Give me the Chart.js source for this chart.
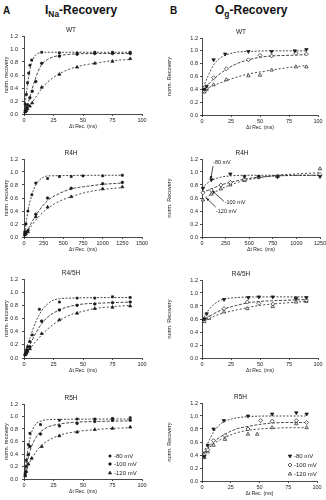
<!DOCTYPE html>
<html><head><meta charset="utf-8">
<script src="https://cdn.jsdelivr.net/npm/chart.js@4"></script>
<style>
html,body{margin:0;padding:0;background:#fff;width:326px;height:500px;overflow:hidden}
canvas{position:absolute}
.hdr{position:absolute;font-family:'Liberation Sans',Arial,sans-serif;font-weight:bold;color:#111;white-space:nowrap;line-height:1}
.hdr sub{font-size:70%;vertical-align:-3px;line-height:0}
</style></head><body>
<div class="hdr" style="left:3px;top:6px;font-size:10px">A</div>
<div class="hdr" style="left:45px;top:4px;font-size:12px">I<sub>Na</sub>-Recovery</div>
<div class="hdr" style="left:170px;top:6px;font-size:10px">B</div>
<div class="hdr" style="left:215px;top:4px;font-size:12px">O<sub>g</sub>-Recovery</div>
<canvas id="a1"></canvas><canvas id="b1"></canvas>
<canvas id="a2"></canvas><canvas id="b2"></canvas>
<canvas id="a3"></canvas><canvas id="b3"></canvas>
<canvas id="a4"></canvas><canvas id="b4"></canvas>
<script>
const FONT = "'Liberation Sans', Arial, sans-serif";
const INK = '#1a1a1a';

// ---- tick labels / categories ----
const xTicks100 = [0, 25, 50, 75, 100];
const xTicks1500 = [0, 250, 500, 750, 1000, 1250, 1500];
const xTicks1250 = [0, 250, 500, 750, 1000, 1250];
const yTicks = [0, 0.2, 0.4, 0.6, 0.8, 1.0, 1.2];
const voltages = ['-80 mV', '-100 mV', '-120 mV'];
const rowTitles = ['WT', 'R4H', 'R4/5H', 'R5H'];
const xTitle = 'Δt Rec. (ms)';

// ---- A: I_Na recovery, WT ----
const naWT80 = [[1,0.15],[2,0.3],[3,0.48],[4,0.63],[5,0.75],[6.5,0.83],[15,0.95],[30,0.94],[45,0.94],[60,0.95],[75,0.95],[90,0.95]];
const naWT80fit = [[0,0],[1,0.16],[2,0.31],[3,0.45],[4,0.58],[5,0.68],[6,0.76],[8,0.86],[10,0.91],[13,0.94],[20,0.95],[90,0.95]];
const naWT100 = [[1,0.05],[2,0.1],[3,0.14],[5,0.25],[7,0.35],[10,0.5],[15,0.78],[30,0.89],[45,0.92],[60,0.93],[75,0.93],[90,0.93]];
const naWT100fit = [[0,0],[2,0.09],[5,0.26],[8,0.45],[10,0.56],[13,0.7],[16,0.78],[20,0.84],[25,0.88],[30,0.9],[40,0.92],[60,0.93],[90,0.93]];
const naWT120 = [[1,0.03],[2,0.05],[3,0.08],[5,0.12],[7,0.17],[15,0.41],[30,0.61],[45,0.72],[60,0.78],[75,0.81],[90,0.85]];
const naWT120fit = [[0,0],[5,0.13],[10,0.26],[15,0.39],[20,0.49],[30,0.62],[40,0.7],[50,0.75],[60,0.78],[75,0.82],[90,0.84]];

// ---- B: O_g recovery, WT ----
const ogWT80 = [[2,0.4],[4,0.45],[10,0.86],[20,0.95],[40,0.99],[60,0.99],[80,1.0],[90,1.02]];
const ogWT80fit = [[0,0.38],[5,0.6],[10,0.78],[15,0.88],[20,0.93],[30,0.98],[40,0.99],[60,1.0],[90,1.0]];
const ogWT100 = [[2,0.37],[4,0.42],[10,0.58],[21,0.72],[40,0.86],[50,0.93],[60,0.92],[81,0.96],[90,0.95]];
const ogWT100fit = [[0,0.38],[10,0.56],[20,0.7],[30,0.8],[40,0.86],[50,0.9],[60,0.92],[75,0.93],[90,0.94]];
const ogWT120 = [[2,0.36],[4,0.4],[10,0.47],[21,0.55],[40,0.61],[50,0.62],[60,0.7],[81,0.75],[90,0.75]];
const ogWT120fit = [[0,0.38],[10,0.46],[20,0.53],[30,0.59],[40,0.64],[50,0.67],[60,0.7],[75,0.74],[90,0.77]];

// ---- A: I_Na recovery, R4H ----
const naR4H80 = [[10,0.08],[25,0.2],[50,0.4],[100,0.65],[150,0.83],[300,0.9],[450,0.93],[600,0.93],[750,0.94],[1000,0.94],[1250,0.95]];
const naR4H80fit = [[0,0],[50,0.4],[100,0.65],[150,0.8],[200,0.88],[250,0.92],[300,0.94],[1250,0.95]];
const naR4H100 = [[10,0.05],[25,0.07],[50,0.1],[150,0.35],[300,0.6],[600,0.75],[1000,0.82],[1250,0.84]];
const naR4H100fit = [[0,0],[100,0.23],[200,0.42],[300,0.56],[450,0.67],[600,0.74],[800,0.78],[1000,0.81],[1250,0.83]];
const naR4H120 = [[10,0.03],[25,0.05],[50,0.08],[150,0.31],[300,0.46],[600,0.62],[1000,0.74],[1250,0.77]];
const naR4H120fit = [[0,0],[100,0.18],[200,0.33],[300,0.44],[450,0.55],[600,0.62],[800,0.69],[1000,0.73],[1250,0.76]];

// ---- B: O_g recovery, R4H ----
const ogR4H80 = [[10,0.75],[100,0.88],[300,0.97],[450,0.93],[600,0.93],[800,0.93],[1250,0.93]];
const ogR4H80fit = [[0,0.75],[50,0.82],[100,0.87],[200,0.92],[300,0.94],[450,0.95],[1250,0.95]];
const ogR4H100 = [[10,0.68],[100,0.72],[200,0.8],[300,0.84],[450,0.89],[600,0.92],[800,0.93],[1250,0.96]];
const ogR4H100fit = [[0,0.68],[100,0.74],[200,0.8],[300,0.84],[450,0.89],[600,0.92],[800,0.94],[1250,0.95]];
const ogR4H120 = [[10,0.57],[100,0.66],[200,0.74],[300,0.8],[450,0.87],[600,0.92],[800,0.93],[1250,1.05]];
const ogR4H120fit = [[0,0.57],[100,0.66],[200,0.74],[300,0.8],[450,0.87],[600,0.91],[800,0.95],[1000,0.97],[1250,0.99]];

// ---- A: I_Na recovery, R4/5H ----
const naR45H80 = [[1,0.06],[2,0.12],[3,0.17],[5,0.25],[7,0.35],[13,0.74],[30,0.85],[45,0.91],[60,0.91],[75,0.93],[90,0.92]];
const naR45H80fit = [[0,0.03],[5,0.3],[10,0.55],[15,0.72],[20,0.82],[25,0.88],[30,0.9],[40,0.91],[90,0.92]];
const naR45H100 = [[1,0.05],[2,0.08],[3,0.12],[5,0.17],[15,0.56],[30,0.73],[45,0.8],[60,0.82],[75,0.84],[90,0.85]];
const naR45H100fit = [[0,0.03],[5,0.2],[10,0.38],[15,0.52],[20,0.62],[30,0.73],[40,0.79],[50,0.82],[60,0.83],[90,0.85]];
const naR45H120 = [[1,0.05],[2,0.07],[3,0.1],[5,0.14],[15,0.37],[30,0.58],[45,0.68],[60,0.75],[75,0.77],[90,0.79]];
const naR45H120fit = [[0,0.03],[10,0.25],[20,0.44],[30,0.57],[40,0.66],[50,0.71],[60,0.75],[75,0.78],[90,0.8]];

// ---- B: O_g recovery, R4/5H ----
const ogR45H80 = [[2,0.6],[4,0.68],[19,0.9],[40,0.93],[49,0.94],[61,0.94],[81,0.92],[90,0.93]];
const ogR45H80fit = [[0,0.58],[5,0.72],[10,0.82],[15,0.88],[20,0.91],[30,0.93],[50,0.94],[90,0.94]];
const ogR45H100 = [[2,0.6],[6,0.62],[19,0.76],[39,0.86],[49,0.84],[61,0.83],[81,0.92],[90,0.89]];
const ogR45H100fit = [[0,0.57],[10,0.68],[20,0.76],[30,0.81],[40,0.85],[50,0.87],[60,0.88],[75,0.89],[90,0.9]];
const ogR45H120 = [[2,0.56],[6,0.61],[19,0.71],[39,0.76],[61,0.79],[81,0.86],[90,0.87]];
const ogR45H120fit = [[0,0.55],[10,0.64],[20,0.7],[30,0.74],[40,0.78],[50,0.81],[60,0.83],[75,0.85],[90,0.87]];

// ---- A: I_Na recovery, R5H ----
const naR5H80 = [[1,0.1],[2,0.3],[3.7,0.55],[5,0.73],[14,0.87],[30,0.94],[45,0.96],[60,0.96],[75,0.97],[90,0.98]];
const naR5H80fit = [[0,0.03],[2,0.3],[4,0.55],[6,0.72],[8,0.82],[10,0.88],[15,0.93],[20,0.95],[90,0.96]];
const naR5H100 = [[1,0.07],[2,0.2],[3.7,0.39],[5,0.52],[14,0.72],[30,0.85],[45,0.89],[60,0.92],[75,0.94],[90,0.94]];
const naR5H100fit = [[0,0.03],[3,0.3],[6,0.5],[10,0.66],[15,0.77],[20,0.83],[30,0.88],[45,0.91],[60,0.92],[90,0.93]];
const naR5H120 = [[1,0.05],[2,0.12],[3.7,0.24],[6.5,0.33],[15,0.52],[30,0.69],[45,0.75],[60,0.79],[75,0.81],[90,0.83]];
const naR5H120fit = [[0,0.03],[5,0.27],[10,0.43],[15,0.54],[20,0.61],[30,0.7],[45,0.76],[60,0.79],[75,0.81],[90,0.82]];

// ---- B: O_g recovery, R5H ----
const ogR5H80 = [[2,0.38],[5,0.55],[10,0.8],[19,0.93],[40,1.0],[61,1.03],[82,1.05],[91,1.03]];
const ogR5H80fit = [[0,0.38],[5,0.58],[10,0.75],[15,0.86],[20,0.92],[30,0.97],[40,0.99],[60,1.0],[90,1.0]];
const ogR5H100 = [[2,0.4],[5,0.48],[10,0.62],[20,0.7],[40,0.8],[51,0.93],[61,0.92],[82,0.93],[91,0.9]];
const ogR5H100fit = [[0,0.38],[5,0.5],[10,0.6],[20,0.72],[30,0.8],[40,0.84],[50,0.87],[60,0.89],[75,0.9],[90,0.9]];
const ogR5H120 = [[2,0.36],[5,0.45],[10,0.55],[20,0.64],[40,0.72],[48,0.72],[61,0.82],[82,0.88],[91,0.82]];
const ogR5H120fit = [[0,0.38],[5,0.49],[10,0.57],[20,0.67],[30,0.74],[40,0.78],[50,0.8],[60,0.81],[75,0.82],[90,0.82]];

// ---- styles ----
const styleA = [
  {pointStyle:'rect', radius:1.4, rotation:0, fill:true},
  {pointStyle:'circle', radius:1.3, rotation:0, fill:true},
  {pointStyle:'triangle', radius:1.8, rotation:0, fill:true}];
const styleB = [
  {pointStyle:'triangle', radius:2, rotation:180, fill:true},
  {pointStyle:'rectRot', radius:2, rotation:0, fill:false},
  {pointStyle:'triangle', radius:2, rotation:0, fill:false}];
const dashes = [[2,1.5],[3,1.5],[2,2]];

const panels = [
  {id:'a1', col:'A', L:24, T:36, R:142, B:114, xMax:100, xT:xTicks100, title:rowTitles[0],
   series:[[naWT80,naWT80fit],[naWT100,naWT100fit],[naWT120,naWT120fit]]},
  {id:'b1', col:'B', L:202, T:38, R:318, B:115, xMax:100, xT:xTicks100, title:rowTitles[0],
   series:[[ogWT80,ogWT80fit],[ogWT100,ogWT100fit],[ogWT120,ogWT120fit]]},
  {id:'a2', col:'A', L:24, T:159, R:142, B:237, xMax:1500, xT:xTicks1500, title:rowTitles[1],
   series:[[naR4H80,naR4H80fit],[naR4H100,naR4H100fit],[naR4H120,naR4H120fit]]},
  {id:'b2', col:'B', L:202, T:159, R:320, B:237, xMax:1250, xT:xTicks1250, title:rowTitles[1],
   series:[[ogR4H80,ogR4H80fit],[ogR4H100,ogR4H100fit],[ogR4H120,ogR4H120fit]],
   notes:[
     {text:voltages[0], tx:117, ty:1.15, fx:117, fy:1.09, ax:92, ay:0.89},
     {text:voltages[1], tx:240, ty:0.53, fx:232, fy:0.55, ax:109, ay:0.71},
     {text:voltages[2], tx:148, ty:0.40, fx:145, fy:0.46, ax:46, ay:0.6}]},
  {id:'a3', col:'A', L:24, T:279, R:142, B:358, xMax:100, xT:xTicks100, title:rowTitles[2],
   series:[[naR45H80,naR45H80fit],[naR45H100,naR45H100fit],[naR45H120,naR45H120fit]]},
  {id:'b3', col:'B', L:202, T:280, R:318, B:358, xMax:100, xT:xTicks100, title:rowTitles[2],
   series:[[ogR45H80,ogR45H80fit],[ogR45H100,ogR45H100fit],[ogR45H120,ogR45H120fit]]},
  {id:'a4', col:'A', L:24, T:404, R:142, B:479, xMax:100, xT:xTicks100, title:rowTitles[3],
   series:[[naR5H80,naR5H80fit],[naR5H100,naR5H100fit],[naR5H120,naR5H120fit]],
   legend:{dx:-32, dy:[-23,-15,-6]}},
  {id:'b4', col:'B', L:202, T:403, R:317, B:481, xMax:100, xT:xTicks100, title:rowTitles[3],
   series:[[ogR5H80,ogR5H80fit],[ogR5H100,ogR5H100fit],[ogR5H120,ogR5H120fit]],
   legend:{dx:-27, dy:[-25,-16,-7]}}
];

const extrasPlugin = {
  id:'extras',
  afterDraw(chart){
    const p = chart.options.plugins.extras;
    if (!p) return;
    const ctx = chart.ctx, ca = chart.chartArea, xs = chart.scales.x, ys = chart.scales.y;
    ctx.save();
    if (p.legend){
      const st = p.styles;
      p.legend.dy.forEach((dy,i)=>{
        const mx = ca.right + p.legend.dx, my = ca.bottom + dy;
        ctx.fillStyle = st[i].fill ? INK : '#fff';
        ctx.strokeStyle = INK; ctx.lineWidth = 0.7;
        Chart.helpers.drawPoint(ctx, {pointStyle:st[i].pointStyle, radius:st[i].radius, rotation:st[i].rotation, borderWidth:0.7}, mx, my);
        ctx.fillStyle = INK;
        ctx.font = '6px ' + FONT;
        ctx.textAlign = 'left'; ctx.textBaseline = 'middle';
        ctx.fillText(voltages[i], mx + 4, my);
      });
    }
    if (p.notes){
      ctx.font = '5.5px ' + FONT;
      ctx.fillStyle = INK; ctx.strokeStyle = INK; ctx.lineWidth = 0.8;
      ctx.textAlign = 'left'; ctx.textBaseline = 'middle';
      p.notes.forEach(n=>{
        ctx.fillText(n.text, xs.getPixelForValue(n.tx), ys.getPixelForValue(n.ty));
        const x0 = xs.getPixelForValue(n.fx), y0 = ys.getPixelForValue(n.fy);
        const x1 = xs.getPixelForValue(n.ax), y1 = ys.getPixelForValue(n.ay);
        ctx.beginPath(); ctx.moveTo(x0,y0); ctx.lineTo(x1,y1); ctx.stroke();
        const a = Math.atan2(y1-y0, x1-x0), s = 3.2;
        ctx.beginPath();
        ctx.moveTo(x1,y1);
        ctx.lineTo(x1 - s*Math.cos(a-0.45), y1 - s*Math.sin(a-0.45));
        ctx.lineTo(x1 - s*Math.cos(a+0.45), y1 - s*Math.sin(a+0.45));
        ctx.closePath(); ctx.fill();
      });
    }
    ctx.restore();
  }
};

function makeChart(p){
  const isA = p.col === 'A';
  const yW = isA ? 24 : 38, padR = 14, padTop = 18, padBot = 18;
  const cv = document.getElementById(p.id);
  const w = p.R - p.L + yW + padR, h = p.B - p.T + padTop + padBot;
  cv.width = w; cv.height = h;
  cv.style.width = w + 'px'; cv.style.height = h + 'px';
  cv.style.left = (p.L - yW) + 'px'; cv.style.top = (p.T - padTop) + 'px';
  const st = isA ? styleA : styleB;
  const datasets = [];
  p.series.forEach((s,i)=>{
    datasets.push({data:s[1], showLine:true, borderColor:INK, borderWidth:0.8, borderDash:dashes[i],
      pointRadius:0, cubicInterpolationMode:'monotone', fill:false, order:2});
    datasets.push({data:s[0], showLine:false, pointStyle:st[i].pointStyle, pointRadius:st[i].radius,
      pointRotation:st[i].rotation, pointBackgroundColor:st[i].fill ? INK : '#fff',
      pointBorderColor:INK, pointBorderWidth:0.7, order:1, clip:4});
  });
  const titleSize = 6.5, titleBox = titleSize*1.2 + 2;
  new Chart(cv, {
    type:'line',
    data:{datasets},
    plugins:[extrasPlugin],
    options:{
      responsive:false, animation:false, devicePixelRatio:1,
      layout:{padding:{left:0, right:padR, top:padTop - titleBox, bottom:padBot - 16}},
      plugins:{
        legend:{display:false}, tooltip:{enabled:false},
        title:{display:true, text:p.title, color:INK, font:{family:FONT, size:titleSize, weight:'normal'}, padding:{top:0,bottom:2}},
        extras:{legend:p.legend, notes:p.notes, styles:st}
      },
      scales:{
        x:{type:'linear', min:0, max:p.xMax,
          afterBuildTicks:s=>{ s.ticks = p.xT.map(v=>({value:v})); },
          afterFit:s=>{ s.height = 16; },
          ticks:{font:{family:FONT, size:5.5}, color:INK, padding:1, maxRotation:0, autoSkip:false, callback:v=>String(v)},
          grid:{drawOnChartArea:false, drawTicks:true, tickLength:2, color:INK, lineWidth:0.8},
          border:{color:INK, width:0.8},
          title:{display:true, text:xTitle, color:INK, font:{family:FONT, size:5}, padding:{top:0,bottom:0}}
        },
        y:{type:'linear', min:0, max:1.2,
          afterBuildTicks:s=>{ s.ticks = yTicks.map(v=>({value:v})); },
          afterFit:s=>{ s.width = yW; },
          ticks:{font:{family:FONT, size:5.5}, color:INK, padding:isA ? 4 : 2, callback:v=>Number(v).toFixed(1)},
          grid:{drawOnChartArea:false, drawTicks:true, tickLength:2, color:INK, lineWidth:0.8},
          border:{color:INK, width:0.8},
          title:{display:true, text:isA ? 'norm. recovery' : 'norm. Recovery', color:INK,
            font:{family:FONT, size:5.5}, padding:{top:isA ? 3.5 : 2.5, bottom:0}}
        }
      }
    }
  });
}
panels.forEach(makeChart);
</script>
</body></html>
